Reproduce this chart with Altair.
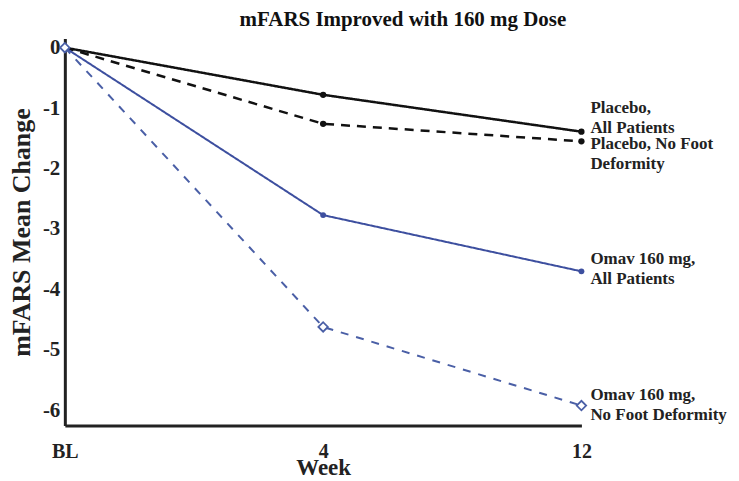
import altair as alt
import pandas as pd

weeks = ["BL", "4", "12"]
series_names = [
    "Placebo, All Patients",
    "Placebo, No Foot Deformity",
    "Omav 160 mg, All Patients",
    "Omav 160 mg, No Foot Deformity",
]
placebo_all = [0, -0.78, -1.39]
placebo_nofoot = [0, -1.26, -1.55]
omav_all = [0, -2.77, -3.70]
omav_nofoot = [0, -4.62, -5.92]
series_values = [placebo_all, placebo_nofoot, omav_all, omav_nofoot]
label_texts = [
    "Placebo,\nAll Patients",
    "Placebo, No Foot\nDeformity",
    "Omav 160 mg,\nAll Patients",
    "Omav 160 mg,\nNo Foot Deformity",
]
y_ticks = [0, -1, -2, -3, -4, -5, -6]

FONT = "Liberation Serif"

styles = [
    dict(color="#111111", dash=[1, 0], width=2.5, shape="circle", size=40, filled=True, dy=-24),
    dict(color="#111111", dash=[9, 7], width=2.5, shape="circle", size=40, filled=True, dy=3),
    dict(color="#3d4f9f", dash=[1, 0], width=2.0, shape="circle", size=35, filled=True, dy=-12),
    dict(color="#4a5fa6", dash=[8, 8], width=2.0, shape="diamond", size=90, filled=False, dy=-11),
]

x_enc = alt.X(
    "week:O",
    sort=weeks,
    scale=alt.Scale(type="point", padding=0),
    axis=alt.Axis(
        title="Week", labelAngle=0, labelPadding=16, titlePadding=-5,
        labelFontSize=20, titleFontSize=23, labelFontWeight="bold", titleFontWeight="bold",
        labelFont=FONT, titleFont=FONT, ticks=False, domainWidth=3, domainColor="#222222",
        labelColor="#222222", titleColor="#222222", grid=False,
    ),
)
y_enc = alt.Y(
    "value:Q",
    scale=alt.Scale(domain=[-6.25, 0.15], nice=False, zero=False),
    axis=alt.Axis(
        title="mFARS Mean Change", values=y_ticks, labelPadding=5, titlePadding=8,
        labelExpr="datum.value == 0 ? '0' : '-' + abs(datum.value)",
        labelFontSize=21, titleFontSize=26, labelFontWeight="bold", titleFontWeight="bold",
        labelFont=FONT, titleFont=FONT, ticks=False, domainWidth=3, domainColor="#222222",
        labelColor="#222222", titleColor="#222222", grid=False,
    ),
)

layers = []
for name, vals, st, lab in zip(series_names, series_values, styles, label_texts):
    df = pd.DataFrame({"week": weeks, "value": vals, "series": name})
    base = alt.Chart(df)
    line = base.mark_line(color=st["color"], strokeWidth=st["width"], strokeDash=st["dash"]).encode(x=x_enc, y=y_enc)
    if st["filled"]:
        pts = base.mark_point(shape=st["shape"], size=st["size"], filled=True, color=st["color"], opacity=1).encode(x=x_enc, y=y_enc)
    else:
        pts = base.mark_point(shape=st["shape"], size=st["size"], filled=False, color=st["color"], strokeWidth=1.8, fill="white", opacity=1).encode(x=x_enc, y=y_enc)
    ldf = pd.DataFrame({"week": [weeks[-1]], "value": [vals[-1]], "label": [lab]})
    txt = alt.Chart(ldf).mark_text(
        align="left", baseline="middle", dx=9, dy=st["dy"], lineBreak="\n", lineHeight=20,
        font=FONT, fontSize=17, fontWeight="bold", color="#222222",
    ).encode(x=x_enc, y=y_enc, text="label:N")
    layers += [line, pts, txt]

chart = alt.layer(*layers).properties(
    width=518,
    height=388,
    background="white",
    title=alt.TitleParams(
        "mFARS Improved with 160 mg Dose", font=FONT, fontSize=21, fontWeight="bold",
        color="#111111", dx=80, offset=7,
    ),
    autosize=alt.AutoSizeParams(type="none"),
    padding={"left": 57, "top": 30, "right": 150, "bottom": 58},
).configure_view(stroke=None)

chart.save("out.html", embed_options={"renderer": "svg", "actions": False})
